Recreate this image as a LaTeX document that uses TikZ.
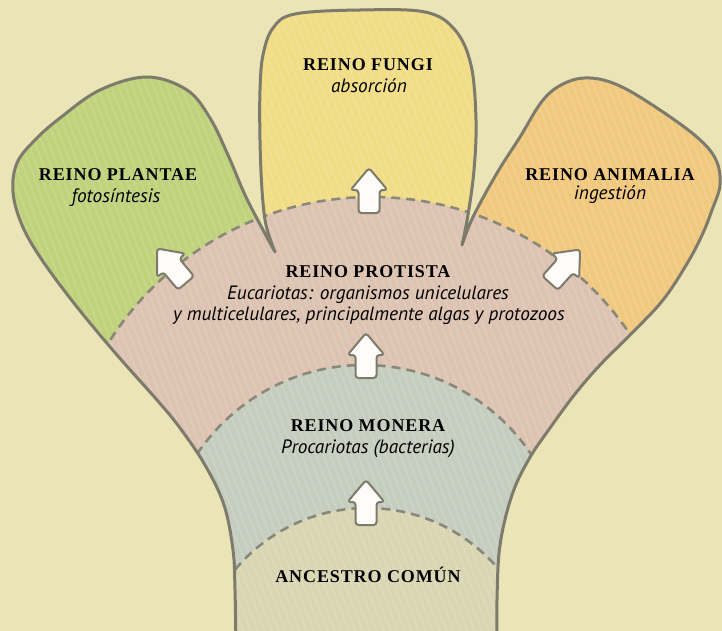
\documentclass[tikz,border=0pt]{standalone}
\usepackage{fontspec}
\setmainfont{Liberation Serif}
\newfontfamily\kingdomfont[LetterSpace=5]{Liberation Serif}
\newfontfamily\traitfont{PT Sans}
\usetikzlibrary{positioning}
\definecolor{paper}{HTML}{EBE4B7}
\definecolor{plantgreen}{HTML}{C0D27C}
\definecolor{fungiyellow}{HTML}{F1DD86}
\definecolor{animalorange}{HTML}{F1C97E}
\definecolor{protistpink}{HTML}{DDC3B1}
\definecolor{monerablue}{HTML}{C5CDBF}
\definecolor{rootbeige}{HTML}{DAD5B3}
\definecolor{pencil}{HTML}{7D7B6B}

\def\treeshape{plot[smooth, tension=0.6] coordinates {(236,650) (235,590) (233,550) (224,505) (205,465) (180,428) (157,400) (117,355) (77,307) (42,260) (22,225) (13,192) (17,163) (35,140) (60,118) (100,90) (147,77) (187,90) (210,118) (228,155) (245,195) (262,228) (275,252)}
  -- plot[smooth, tension=0.6] coordinates {(275,252) (266,225) (262,190) (260,140) (260,90) (263,55) (273,28) (295,14) (360,10) (425,12) (455,30) (471,65) (476,120) (474,170) (468,215) (462,245)}
  -- plot[smooth, tension=0.6] coordinates {(462,245) (473,217) (497,173) (520,137) (543,100) (565,83) (590,78) (620,86) (660,110) (698,138) (716,160) (720,185) (712,210) (703,233) (688,262) (663,300) (631,334) (600,365) (575,394) (550,428) (529,459) (512,495) (500,545) (497,600) (497,650)}
  -- cycle}

\begin{document}
\begin{tikzpicture}[
    x=1pt, y=-1pt,
    kingdom/.style={font=\kingdomfont\bfseries\fontsize{18}{20}\selectfont, anchor=base, inner sep=0pt},
    trait/.style={font=\traitfont\itshape\fontsize{19.3}{21}\selectfont, anchor=base, inner sep=0pt},
    rim/.style={draw=pencil, line width=3pt, line join=round},
    bandline/.style={draw=pencil!90, line width=2.6pt, dash pattern=on 9pt off 6pt},
    hatch/.style={draw=white, line width=1.6pt, opacity=0.13},
    arrowbox/.style={draw=pencil, fill=white!90!paper, line width=2pt, rounded corners=3pt, line join=round},
    growth/.pic={\draw[arrowbox] (-10.5,0) -- (-10.5,-23) -- (-18.5,-23) -- (0,-45) -- (18.5,-23) -- (10.5,-23) -- (10.5,0) -- cycle;}
]

\useasboundingbox (0,0) rectangle (722,631);
\fill[paper] (0,0) rectangle (722,631);

\begin{scope}
    \clip \treeshape;
    \fill[plantgreen] (0,0) rectangle (258,650);
    \fill[fungiyellow] (258,0) rectangle (477,650);
    \fill[animalorange] (477,0) rectangle (722,650);
    \fill[protistpink] (372,508) circle[radius=311];
    \fill[monerablue] (364,566) circle[radius=201];
    \fill[rootbeige] (367,680) circle[radius=172];
    \foreach \s in {-300,-293,...,760}
        \draw[hatch] (\s,0) -- ++(250,650);
    \draw[bandline] (372,508) circle[radius=311];
    \draw[bandline] (364,566) circle[radius=201];
    \draw[bandline] (367,680) circle[radius=172];
\end{scope}
\draw[rim] \treeshape;

\pic (upmonera) at (366,525) {growth};
\pic (upprotista) at (366,378) {growth};
\pic (upfungi) at (369,213) {growth};
\pic[rotate=40] (upplantae) at (186,283) {growth};
\pic[rotate=-42] (upanimalia) at (550,283) {growth};

\node[kingdom] (fungi) at (368,71) {REINO FUNGI};
\node[trait] (fungitxt) at (369,93) {absorción};
\node[kingdom] (plantae) at (118,180) {REINO PLANTAE};
\node[trait] (plantaetxt) at (116,202) {fotosíntesis};
\node[kingdom] (animalia) at (610,180) {REINO ANIMALIA};
\node[trait] (animaliatxt) at (610,200) {ingestión};
\node[kingdom] (protista) at (368,277) {REINO PROTISTA};
\node[trait] (protistatxt) at (368,299) {Eucariotas: organismos unicelulares};
\node[trait] (protistatxtb) at (369,320) {y multicelulares, principalmente algas y protozoos};
\node[kingdom] (monera) at (368,431) {REINO MONERA};
\node[trait] (moneratxt) at (368,453) {Procariotas (bacterias)};
\node[kingdom] (ancestro) at (368,582) {ANCESTRO COMÚN};

\end{tikzpicture}
\end{document}
